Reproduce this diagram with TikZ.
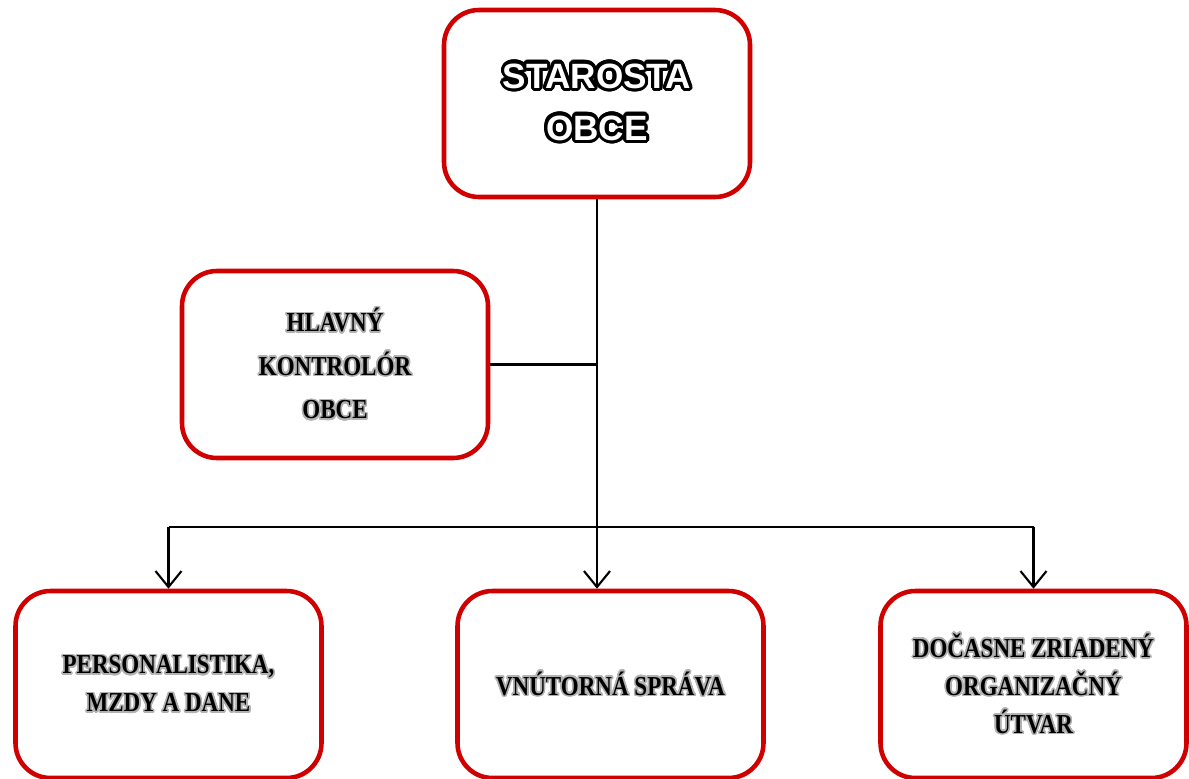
\documentclass[tikz,border=0pt]{standalone}
\usepackage{fontspec}
\usepackage{contour}
\setmainfont{Liberation Serif}
\newfontfamily\headfont{Liberation Sans}
\newfontfamily\lblfont{Liberation Serif}[FakeStretch=0.84]
\usetikzlibrary{arrows.meta}
\definecolor{boxred}{RGB}{208,0,0}
\contournumber{24}
\newcommand{\glow}[1]{\contourlength{0.45pt}\contour{black!30}{#1}}
\newcommand{\outl}[1]{\contourlength{0.9pt}\contour{black}{#1}}
\tikzset{
  orgbox/.style={draw=boxred, line width=1.3pt, rounded corners=0.35cm, fill=white,
    minimum width=3.06cm, minimum height=1.87cm, align=center, inner sep=0pt},
  lbl/.style={font=\lblfont\bfseries\fontsize{7.8}{10.8}\selectfont},
  link/.style={line width=0.6pt},
  arr/.style={link, -{Straight Barb[length=1.6mm, width=2.6mm]}}
}
\begin{document}
\begin{tikzpicture}
  \useasboundingbox (0,0) rectangle (11.89,7.78);
  % Starosta obce
  \node[orgbox, text=white, font=\headfont\bfseries\fontsize{10}{14.8}\selectfont]
    (starosta) at (5.97,6.745) {\outl{STAROSTA}\\\outl{OBCE}};
  % Hlavny kontrolor
  \node[orgbox, lbl, font=\lblfont\bfseries\fontsize{7.8}{12.4}\selectfont]
    (kontrolor) at (3.35,4.135) {\glow{HLAVNÝ}\\\glow{KONTROLÓR}\\\glow{OBCE}};
  % Utvary
  \node[orgbox, lbl] (personal) at (1.685,0.935) {\glow{PERSONALISTIKA,}\\\glow{MZDY A DANE}};
  \node[orgbox, lbl] (sprava) at (6.105,0.935) {\glow{VNÚTORNÁ SPRÁVA}};
  \node[orgbox, lbl] (utvar) at (10.335,0.935) {\glow{DOČASNE ZRIADENÝ}\\\glow{ORGANIZAČNÝ}\\\glow{ÚTVAR}};
  % Prepojenia
  \coordinate (bus) at (0,2.51);
  \draw[arr] (starosta.south) -- (starosta.south |- sprava.north);
  \draw[link] (kontrolor.east) -- (kontrolor.east -| starosta.south);
  \draw[link] (personal.north |- bus) -- (utvar.north |- bus);
  \draw[arr] (personal.north |- bus) -- (personal.north);
  \draw[arr] (utvar.north |- bus) -- (utvar.north);
\end{tikzpicture}
\end{document}
